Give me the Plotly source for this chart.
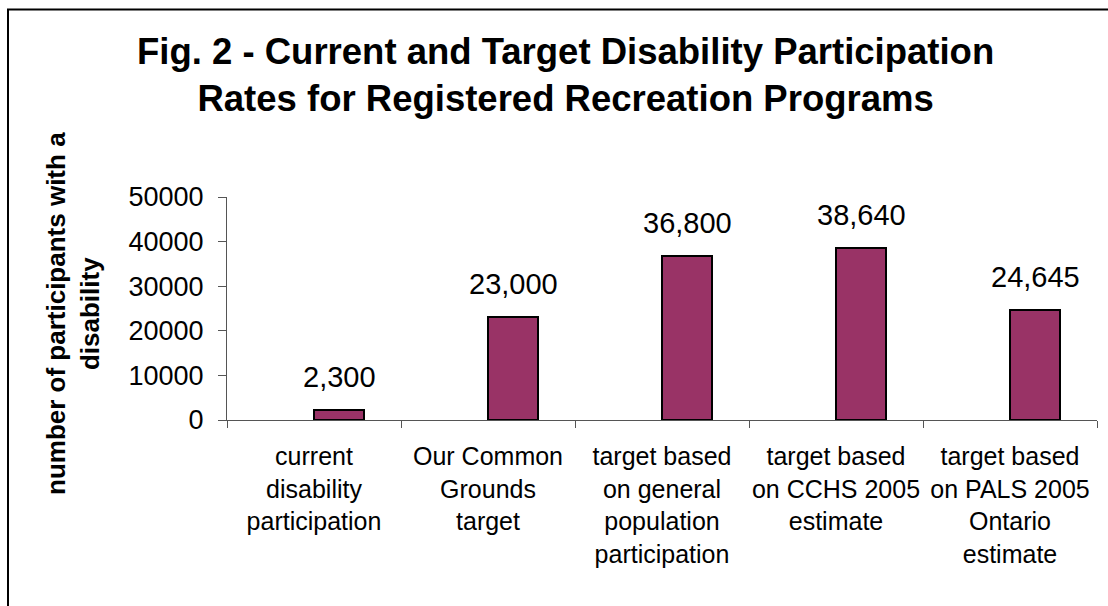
import plotly.graph_objects as go

# Participation counts per scenario
categories = [
    "current<br>disability<br>participation",
    "Our Common<br>Grounds<br>target",
    "target based<br>on general<br>population<br>participation",
    "target based<br>on CCHS 2005<br>estimate",
    "target based<br>on PALS 2005<br>Ontario<br>estimate",
]
participants = [2300, 23000, 36800, 38640, 24645]
y_ticks = [0, 10000, 20000, 30000, 40000, 50000]

title_text = ("Fig. 2 - Current and Target Disability Participation<br>"
              "Rates for Registered Recreation Programs")
y_title_text = "number of participants with a<br>disability"

FONT = "Liberation Sans, Arial, sans-serif"
BAR_COLOR = "#993366"
BAR_WIDTH = 0.2875

# plot area geometry in pixels
W, H = 1108, 606
L, R, T, B = 227, 11, 197, 186
PW, PH = W - L - R, H - T - B


def px_to_paper_x(px):
    return (px - L) / PW


def px_to_paper_y(py):
    return (H - B - py) / PH


fig = go.Figure()
fig.add_trace(go.Bar(
    x=categories,
    y=participants,
    offset=0,
    width=BAR_WIDTH,
    marker=dict(color=BAR_COLOR, line=dict(color="black", width=2)),
    hoverinfo="skip",
    showlegend=False,
))

annotations = []
bar_shift_px = BAR_WIDTH / 2 * PW / len(categories)
for cat, val in zip(categories, participants):
    annotations.append(dict(
        x=cat, y=val, xref="x", yref="y",
        text=f"{val:,}",
        showarrow=False,
        xanchor="center", yanchor="middle",
        xshift=bar_shift_px, yshift=33,
        font=dict(family=FONT, size=29, color="black"),
    ))

annotations.append(dict(
    x=px_to_paper_x(565), y=px_to_paper_y(75), xref="paper", yref="paper",
    text=f"<b>{title_text}</b>",
    showarrow=False, xanchor="center", yanchor="middle",
    font=dict(family=FONT, size=36.5, color="black"),
))

annotations.append(dict(
    x=px_to_paper_x(73), y=px_to_paper_y(314), xref="paper", yref="paper",
    text=f"<b>{y_title_text}</b>",
    textangle=-90,
    showarrow=False, xanchor="center", yanchor="middle",
    font=dict(family=FONT, size=26, color="black"),
))

# outer chart frame (top and left edges visible)
frame = dict(
    type="rect", xref="paper", yref="paper",
    x0=px_to_paper_x(8), x1=px_to_paper_x(W + 20),
    y0=px_to_paper_y(H + 20), y1=px_to_paper_y(9.5),
    line=dict(color="black", width=2), fillcolor="rgba(0,0,0,0)",
    layer="below",
)

fig.update_layout(
    width=W, height=H,
    margin=dict(l=L, r=R, t=T, b=B, autoexpand=False),
    paper_bgcolor="white", plot_bgcolor="white",
    font=dict(family=FONT, color="black"),
    annotations=annotations,
    shapes=[frame],
    bargap=0,
    xaxis=dict(
        type="category",
        range=[-0.5, len(categories) - 0.5],
        showline=True, linecolor="#555555", linewidth=1,
        ticks="outside", tickson="boundaries", ticklen=7, tickcolor="#555555",
        tickangle=0, ticklabelstandoff=14,
        tickfont=dict(family=FONT, size=25, color="black"),
        showgrid=False, zeroline=False,
    ),
    yaxis=dict(
        range=[0, 50000],
        tickvals=y_ticks, tickformat="d",
        showline=True, linecolor="#555555", linewidth=1,
        ticks="outside", ticklen=8, tickcolor="#555555",
        ticklabelstandoff=9,
        tickfont=dict(family=FONT, size=27, color="black"),
        showgrid=False, zeroline=False,
    ),
)

fig.write_html("out.html")
